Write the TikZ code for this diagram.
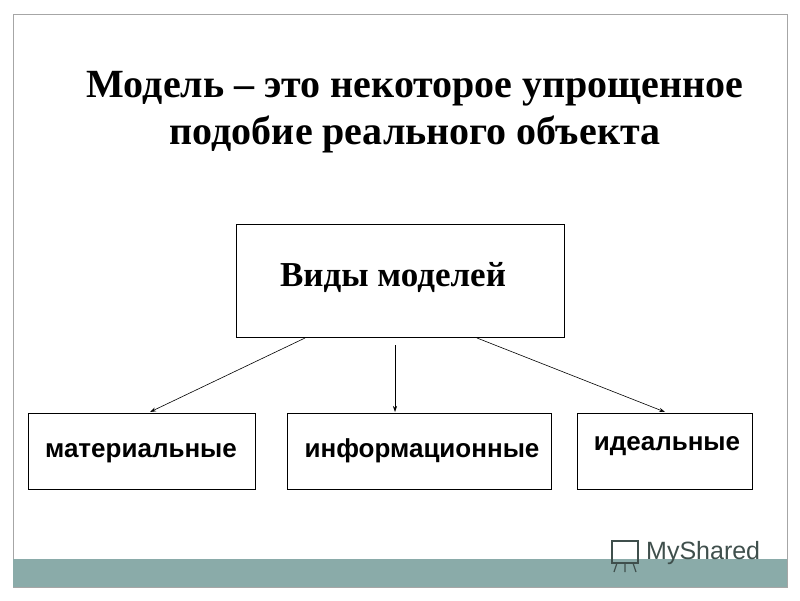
\documentclass[tikz,border=0pt]{standalone}
\usepackage{fontspec}
\setmainfont{Liberation Serif}
\setsansfont{Liberation Sans}
\usetikzlibrary{arrows.meta}
\definecolor{bar}{HTML}{8AABA9}
\definecolor{logo}{HTML}{3F4F4C}
\begin{document}
\begin{tikzpicture}[x=1pt,y=-1pt,
  box/.style={draw,line width=0.8pt},
  arr/.style={-{Stealth[length=6pt,width=4pt]},line width=0.6pt},
  small/.style={font=\sffamily\bfseries\fontsize{26}{30}\selectfont}]
\useasboundingbox (0,0) rectangle (800,600);
\fill[white] (0,0) rectangle (800,600);
\draw[gray!70,line width=0.8pt] (13,14) rectangle (787,587);
\fill[bar] (13,559) rectangle (787,587);
\node[font=\bfseries\fontsize{40}{47}\selectfont,align=center] (title) at (415,112)
  {Модель – это некоторое упрощенное\\подобие реального объекта};
\draw[box] (236,224) rectangle (564,337);
\node[font=\bfseries\fontsize{35}{40}\selectfont] (main) at (393,277) {Виды моделей};
\coordinate (m1) at (305,338); \coordinate (m2) at (395,345); \coordinate (m3) at (477,338);
\node[box,minimum width=227pt,minimum height=76pt] (b1) at (141.5,451) {};
\node[box,minimum width=264pt,minimum height=76pt] (b2) at (419,451) {};
\node[box,minimum width=175pt,minimum height=76pt] (b3) at (664.5,451) {};
\node[small] at (141,453) {материальные};
\node[small] at (422,451) {информационные};
\node[small] at (667,446) {идеальные};
\coordinate (t1) at (150,412); \coordinate (t2) at (395,412); \coordinate (t3) at (665,412);
\draw[arr] (m1) -- (t1);
\draw[arr] (m2) -- (t2);
\draw[arr] (m3) -- (t3);
\node[font=\sffamily\fontsize{25}{28}\selectfont,text=logo,anchor=west,inner sep=0pt] (logo) at (646,553) {MyShared};
\draw[logo,line width=1.2pt] (612,541) rectangle (638,563);
\draw[logo,line width=1.2pt] (617,563) -- (614,572) (625,563)--(625,572) (633,563)--(636,572);
\end{tikzpicture}
\end{document}
